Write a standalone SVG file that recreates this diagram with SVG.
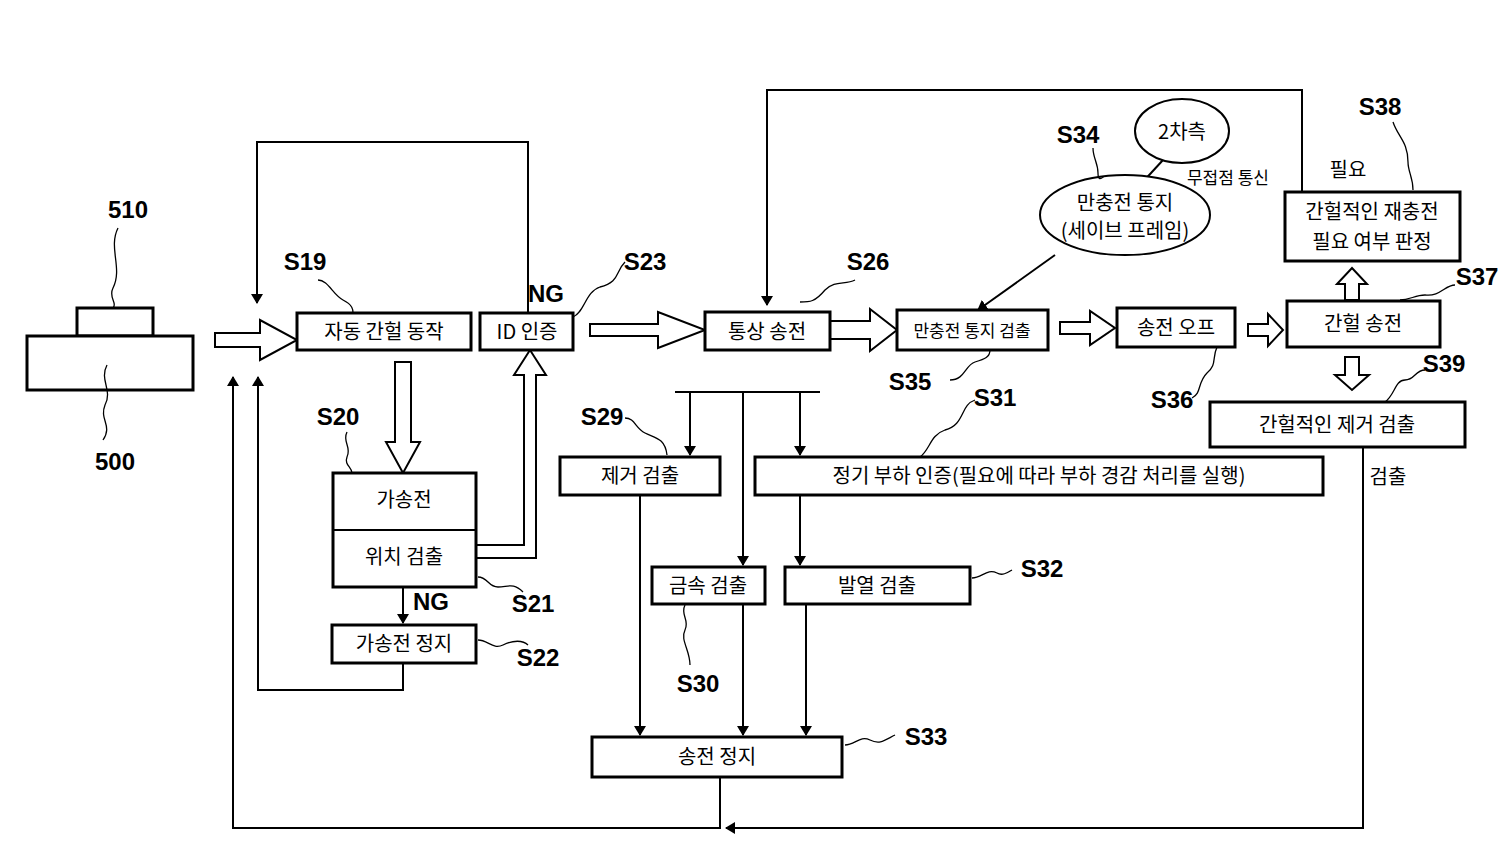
<svg xmlns="http://www.w3.org/2000/svg" width="1500" height="851" viewBox="0 0 1500 851">
<style>
.b{fill:#fff;stroke:#000;stroke-width:3}
.h{fill:#fff;stroke:#000;stroke-width:2}
.l{fill:none;stroke:#000;stroke-width:2}
.q{fill:none;stroke:#000;stroke-width:1.3}
.t{font-family:"Noto Sans CJK KR","Noto Sans",sans-serif;font-size:20px;text-anchor:middle}
.s{font-family:"Liberation Sans",sans-serif;font-size:24px;font-weight:bold;text-anchor:middle}
</style>
<defs><marker id="a" markerWidth="10" markerHeight="12" refX="9" refY="6" orient="auto" markerUnits="userSpaceOnUse"><path d="M0,0L10,6L0,12z"/></marker></defs>
<rect width="1500" height="851" fill="#fff"/>
<g id="dev"><rect class="b" x="77" y="308" width="76" height="28"/><rect class="b" x="27" y="336" width="166" height="54"/>
<text class="s" x="128" y="218">510</text><text class="s" x="115" y="470">500</text>
<path class="q" d="M118,228c-10,20 5,40 -5,60c-5,10 5,15 0,20"/><path class="q" d="M107,365c-8,15 6,25 -2,40c-6,15 8,20 -2,35"/></g>
<g id="connectors">
<path class="h" d="M215,333h45v-13l37,20l-37,20v-13h-45z"/>
<path class="h" d="M590,324h68v-12l47,18l-47,18v-12h-68z"/>
<path class="h" d="M830,321h40v-12l27,21l-27,21v-12h-40z"/>
<path class="h" d="M1060,322h30v-11l25,17l-25,17v-11h-30z"/>
<path class="h" d="M1248,324h20v-10l15,16l-15,16v-10h-20z"/>
<path class="h" d="M1345,300v-16h-8l15,-16l15,16h-8v16z"/>
<path class="h" d="M1345,357v18h-10l17,15l17,-15h-10v-18z"/>
<path class="h" d="M395,362v80h-9l17,31l17,-31h-9v-80z"/>
<path class="h" d="M476,545h48v-170h-10l16,-25l16,25h-10v183h-60z"/>
<path class="l" d="M528,313V142H257V303" marker-end="url(#a)"/>
<path class="l" d="M1302,192V90H767V305" marker-end="url(#a)"/>
<path class="l" d="M1363,447V828H726" marker-end="url(#a)"/>
<path class="l" d="M720,778V828H233V377" marker-end="url(#a)"/>
<path class="l" d="M403,663V690H258V377" marker-end="url(#a)"/>
<path class="l" d="M403,587V623" marker-end="url(#a)"/>
<path class="l" d="M675,392H820"/>
<path class="l" d="M690,392V455" marker-end="url(#a)"/>
<path class="l" d="M743,392V565" marker-end="url(#a)"/>
<path class="l" d="M800,392V455" marker-end="url(#a)"/>
<path class="l" d="M800,495V565" marker-end="url(#a)"/>
<path class="l" d="M640,495V735" marker-end="url(#a)"/>
<path class="l" d="M743,604V735" marker-end="url(#a)"/>
<path class="l" d="M806,604V735" marker-end="url(#a)" stroke-width="3"/>
<path class="l" d="M1163,160L1140,185"/>
<path class="l" d="M1055,255L978,310" marker-end="url(#a)"/>
</g>
<g id="S19"><rect class="b" x="297" y="313" width="174" height="37"/><text class="t" x="384" y="339">자동 간헐 동작</text><text class="s" x="305" y="270">S19</text><path class="q" d="M318,280c10,0 15,15 25,20c10,5 10,10 10,13"/></g>
<g id="S23"><rect class="b" x="480" y="313" width="93" height="37"/><text class="t" x="527" y="339">ID 인증</text><text class="s" x="546" y="302">NG</text><text class="s" x="645" y="270">S23</text><path class="q" d="M625,262c-10,10 -5,20 -25,25c-15,5 -15,25 -27,30"/></g>
<g id="S26"><rect class="b" x="705" y="312" width="125" height="38"/><text class="t" x="767" y="339">통상 송전</text><text class="s" x="868" y="270">S26</text><path class="q" d="M855,280c-10,5 -20,0 -30,10c-10,12 -15,12 -25,12"/></g>
<g id="S35"><rect class="b" x="897" y="310" width="151" height="40"/><text class="t" x="972" y="337" style="font-size:17px">만충전 통지 검출</text><text class="s" x="910" y="390">S35</text><path class="q" d="M950,380c15,0 15,-15 25,-18c10,-3 15,-5 15,-12"/></g>
<g id="S36"><rect class="b" x="1117" y="308" width="118" height="39"/><text class="t" x="1176" y="335">송전 오프</text><text class="s" x="1172" y="408">S36</text><path class="q" d="M1192,398c10,-5 5,-15 15,-25c10,-8 5,-15 10,-26"/></g>
<g id="S37"><rect class="b" x="1287" y="301" width="153" height="46"/><text class="t" x="1363" y="331">간헐 송전</text><text class="s" x="1477" y="285">S37</text><path class="q" d="M1455,285c-10,0 -15,12 -30,10c-10,0 -15,5 -25,5"/></g>
<g id="S38"><rect class="b" x="1285" y="192" width="175" height="69"/><text class="t" x="1372" y="219">간헐적인 재충전</text><text class="t" x="1372" y="249">필요 여부 판정</text><text class="s" x="1380" y="115">S38</text><text class="t" x="1348" y="177">필요</text><path class="q" d="M1393,122c5,15 15,20 15,40c0,10 5,15 5,28"/></g>
<g id="S39"><rect class="b" x="1210" y="402" width="255" height="45"/><text class="t" x="1337" y="432">간헐적인 제거 검출</text><text class="s" x="1444" y="372">S39</text><text class="t" x="1388" y="484">검출</text><path class="q" d="M1425,370c-10,0 -10,10 -20,10c-10,0 -10,15 -20,22"/></g>
<g id="S34"><ellipse class="h" cx="1125" cy="215" rx="85" ry="40"/><text class="t" x="1125" y="210">만충전 통지</text><text class="t" x="1125" y="238">(세이브 프레임)</text><text class="s" x="1078" y="143">S34</text><path class="q" d="M1093,148c0,10 5,15 5,25c0,10 5,3 5,5"/></g>
<g id="side2"><ellipse class="h" cx="1182" cy="131" rx="47" ry="32"/><text class="t" x="1182" y="139">2차측</text><text class="t" x="1228" y="184" style="font-size:17px">무접점 통신</text></g>
<g id="S20"><rect class="b" x="333" y="473" width="143" height="114"/><path class="l" d="M333,530H476" stroke-width="3"/><text class="t" x="404" y="507">가송전</text><text class="t" x="404" y="564">위치 검출</text><text class="s" x="338" y="425">S20</text><path class="q" d="M347,432c-5,10 5,15 0,25c-3,8 5,10 5,16"/></g>
<text class="s" x="533" y="612">S21</text><path class="q" d="M478,577c10,0 10,10 20,10c10,0 15,-5 25,5"/>
<g id="S22"><rect class="b" x="332" y="625" width="144" height="38"/><text class="t" x="404" y="651">가송전 정지</text><text class="s" x="538" y="666">S22</text><text class="s" x="431" y="610">NG</text><path class="q" d="M478,640c10,0 15,10 25,5c10,-5 20,-5 25,0"/></g>
<g id="S29"><rect class="b" x="560" y="457" width="160" height="38"/><text class="t" x="640" y="483">제거 검출</text><text class="s" x="602" y="425">S29</text><path class="q" d="M625,418c10,0 10,10 20,15c10,5 20,5 22,22"/></g>
<g id="S31"><rect class="b" x="755" y="457" width="568" height="38"/><text class="t" x="1039" y="483">정기 부하 인증(필요에 따라 부하 경감 처리를 실행)</text><text class="s" x="995" y="406">S31</text><path class="q" d="M975,400c-15,5 -10,25 -30,30c-15,5 -15,20 -25,27"/></g>
<g id="S30"><rect class="b" x="652" y="567" width="113" height="37"/><text class="t" x="708" y="593">금속 검출</text><text class="s" x="698" y="692">S30</text><path class="q" d="M685,605c-5,10 5,15 0,25c-5,10 5,20 5,35"/></g>
<g id="S32"><rect class="b" x="785" y="567" width="185" height="37"/><text class="t" x="877" y="593">발열 검출</text><text class="s" x="1042" y="577">S32</text><path class="q" d="M972,578c10,0 15,-10 25,-5c5,3 10,0 15,-3"/></g>
<g id="S33"><rect class="b" x="592" y="737" width="250" height="40"/><text class="t" x="717" y="764">송전 정지</text><text class="s" x="926" y="745">S33</text><path class="q" d="M845,745c10,0 15,-10 25,-5c10,5 15,0 25,-5"/></g>
</svg>
